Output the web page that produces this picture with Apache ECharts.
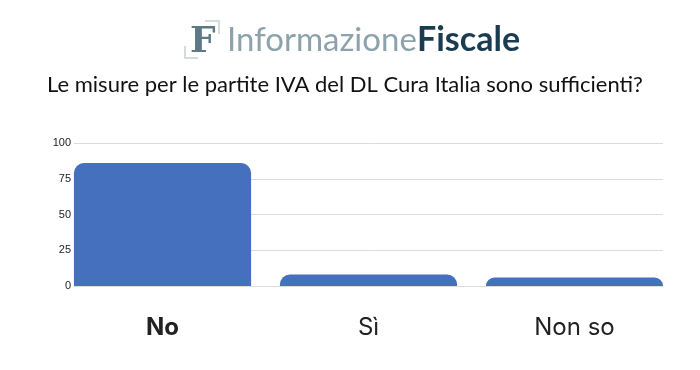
<!DOCTYPE html>
<html>
<head>
<meta charset="utf-8">
<script src="https://cdn.jsdelivr.net/npm/echarts@6/dist/echarts.min.js"></script>
<style>
  html, body { margin: 0; padding: 0; background: #fff; }
  #main { width: 700px; height: 370px; }
</style>
</head>
<body>
<div id="main"></div>
<script>
var categories = ["No", "Sì", "Non so"];
var values = [86, 8, 6];
var yTicks = [0, 25, 50, 75, 100];

var myChart = echarts.init(document.getElementById("main"));

var option = {
  backgroundColor: "#fff",
  animation: false,
  graphic: [
    // logo: icona F con angoli
    {
      type: "polyline",
      shape: { points: [[205, 21], [219, 21], [219, 34]] },
      style: { stroke: "#c9d0d4", lineWidth: 1.5, fill: null }
    },
    {
      type: "polyline",
      shape: { points: [[185, 46], [185, 58], [198, 58]] },
      style: { stroke: "#c9d0d4", lineWidth: 1.5, fill: null }
    },
    {
      type: "text",
      left: 190,
      top: 25,
      style: {
        text: "F",
        font: "bold 36px 'DejaVu Serif'",
        fill: "#5f7886"
      }
    },
    {
      type: "text",
      left: 227,
      top: 24,
      style: {
        text: "Informazione",
        font: "33px Lato",
        fill: "#8ea2ac"
      }
    },
    {
      type: "text",
      left: 417,
      top: 23,
      style: {
        text: "Fiscale",
        font: "bold 34px Lato",
        fill: "#1b3c50"
      }
    },
    {
      type: "text",
      left: 47,
      top: 74,
      style: {
        text: "Le misure per le partite IVA del DL Cura Italia sono sufficienti?",
        font: "22px Lato",
        fill: "#111"
      }
    }
  ],
  grid: [
    // griglia per linee e etichette y
    { left: 74, right: 37, top: 143, bottom: 84, containLabel: false },
    // griglia per le barre
    { left: 59.5, right: 22.5, top: 143, bottom: 84, containLabel: false }
  ],
  xAxis: [
    {
      gridIndex: 0,
      type: "category",
      data: categories,
      show: false
    },
    {
      gridIndex: 1,
      type: "category",
      data: categories,
      axisTick: { show: false },
      axisLine: { show: false },
      axisLabel: {
        margin: 30,
        fontSize: 24,
        fontFamily: "Inter",
        color: "#222",
        formatter: function (v, i) {
          return i === 0 ? "{b|" + v + "}" : v;
        },
        rich: {
          b: { fontSize: 24, fontWeight: "bold", fontFamily: "Inter", color: "#222" }
        }
      }
    }
  ],
  yAxis: [
    {
      gridIndex: 0,
      type: "value",
      min: yTicks[0],
      max: yTicks[yTicks.length - 1],
      interval: 25,
      axisLine: { show: false },
      axisTick: { show: false },
      splitLine: { lineStyle: { color: "#dcdcdc", width: 1 } },
      axisLabel: {
        margin: 3,
        fontSize: 11,
        fontFamily: "Liberation Sans",
        color: "#222"
      }
    },
    {
      gridIndex: 1,
      type: "value",
      min: yTicks[0],
      max: yTicks[yTicks.length - 1],
      interval: 25,
      show: false,
      splitLine: { show: false }
    }
  ],
  series: [
    {
      type: "bar",
      xAxisIndex: 1,
      yAxisIndex: 1,
      data: values,
      barCategoryGap: "14%",
      itemStyle: {
        color: "#4470bd",
        borderRadius: [10, 10, 0, 0]
      }
    }
  ]
};

myChart.setOption(option);
</script>
</body>
</html>
